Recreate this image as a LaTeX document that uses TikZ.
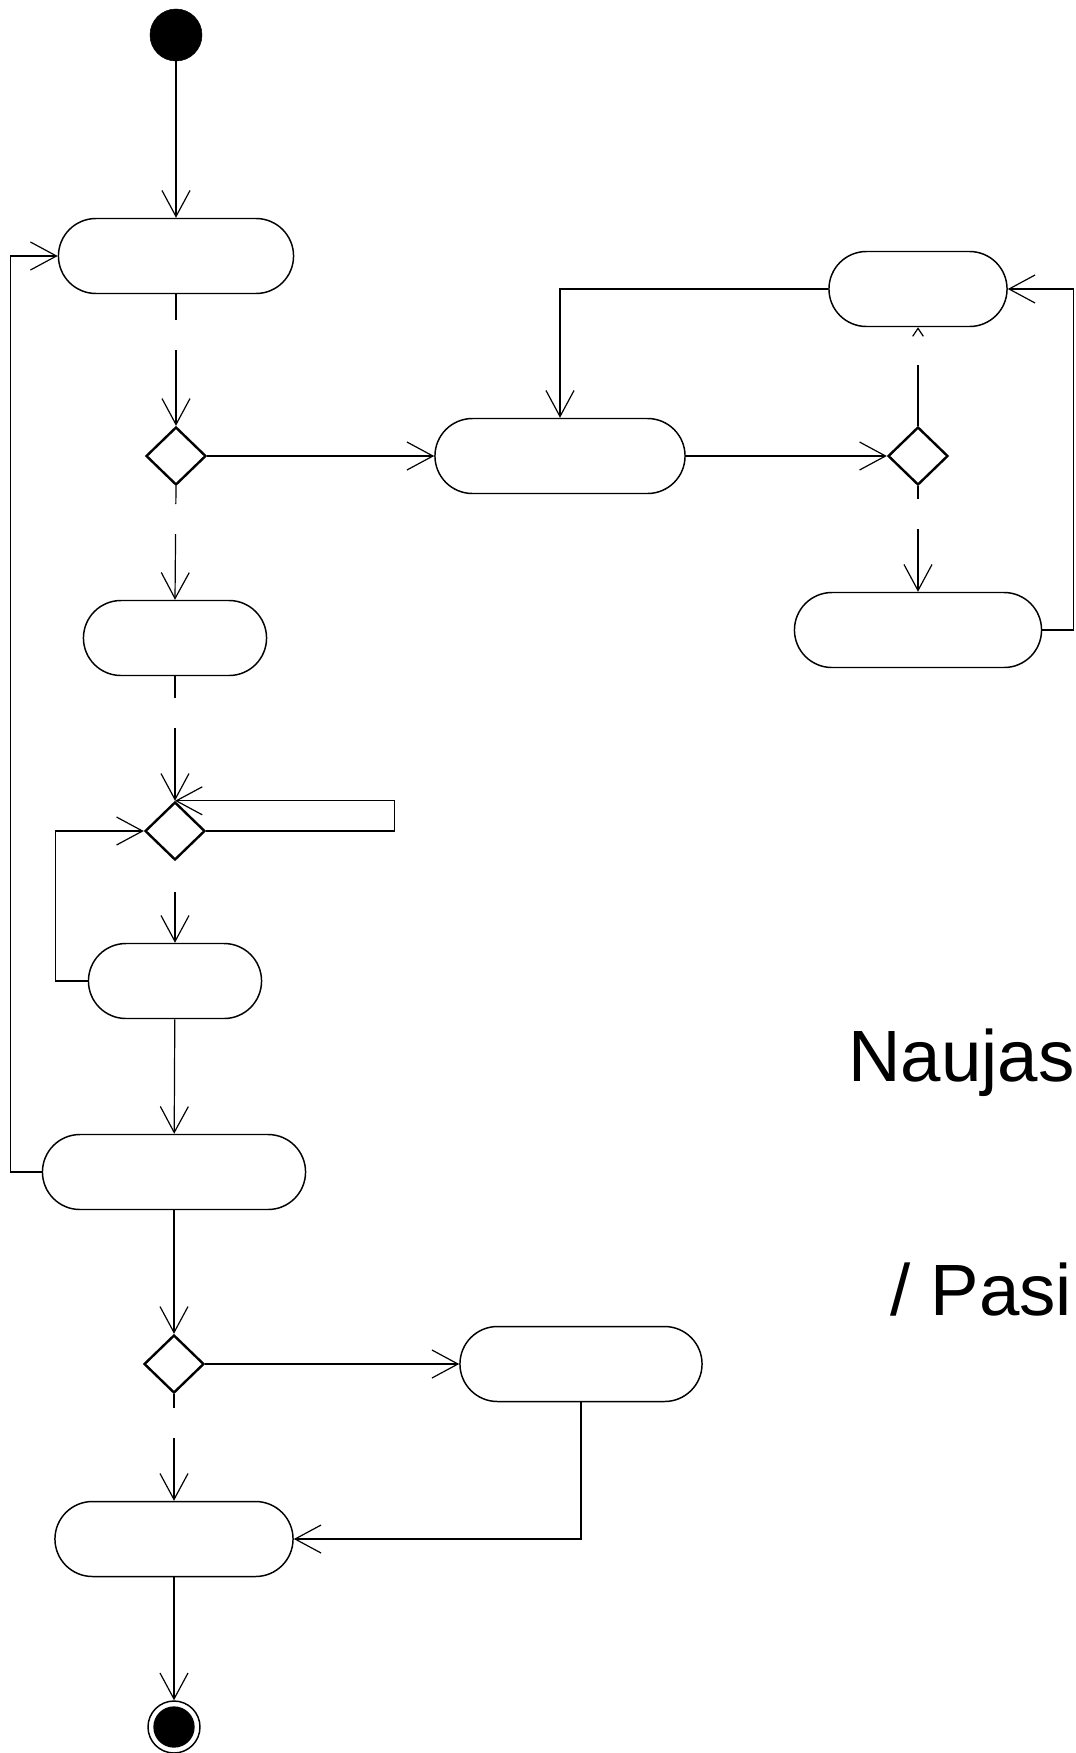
\documentclass[tikz,border=0pt]{standalone}
\usepackage{fontspec}
\setmainfont{Liberation Sans}
\usetikzlibrary{arrows.meta,shapes.misc,shapes.geometric}

\begin{document}
\begin{tikzpicture}[x=0.75pt, y=-0.75pt,
  act/.style={draw, rounded rectangle, minimum height=56.25pt, line width=1.1pt},
  dec/.style={draw, diamond, minimum width=45pt, minimum height=43.5pt, inner sep=0pt, line width=1.8pt},
  flow/.style={-{Straight Barb[length=19.5pt, width=21pt]}, line width=0.9pt},
  guard/.style={dash pattern=on #1 off 22.5pt on 400pt},
  bigtext/.style={anchor=base west, inner sep=0pt, font=\fontsize{54.5pt}{60pt}\selectfont}]
\useasboundingbox (0,0) rectangle (1075,1753);
\clip (0,0) rectangle (1075,1753);

% Start and end
\node[draw, circle, fill, minimum size=39pt] (start) at (176,35) {};
\node[draw, circle, minimum size=39pt, line width=1.1pt] (stop) at (174,1727) {};
\node[circle, fill, minimum size=31pt] (stopdot) at (174,1727) {};

% Actions
\node[act, minimum width=183pt] (a1) at (176,256) {};
\node[act, minimum width=194.25pt] (a2) at (560,456) {};
\node[act, minimum width=140.25pt] (a3) at (918,289) {};
\node[act, minimum width=192pt] (a4) at (918,630) {};
\node[act, minimum width=144pt] (a5) at (175,638) {};
\node[act, minimum width=136.5pt] (a6) at (175,981) {};
\node[act, minimum width=204pt] (a7) at (174,1172) {};
\node[act, minimum width=188.25pt] (a8) at (581,1364) {};
\node[act, minimum width=185.25pt] (a9) at (174,1539) {};

% Decisions
\node[dec] (d1) at (176,456) {};
\node[dec] (d2) at (918,456) {};
\node[dec] (d3) at (175,831) {};
\node[dec] (d4) at (174,1364) {};

% Flows
\draw[flow] (start) -- (a1);
\draw[flow, guard=19.5pt] (a1.south) -- (d1.north);
\draw[flow] (d1.east) -- (a2.west);
\draw[flow] (a2.east) -- (d2.west);
\draw[-{Straight Barb[length=6pt, width=8pt]}, line width=0.9pt, dash pattern=on 45.75pt off 400pt] (d2.north) -- (a3.south);
\draw[flow, guard=9.75pt] (d2.south) -- (a4.north);
\draw[flow] (a4.east) -- ++(31,0) |- (a3.east);
\draw[flow] (a3.west) -| (a2.north);
\draw[flow, guard=13.5pt] (d1.south) -- (a5.north);
\draw[flow, guard=16.5pt] (a5.south) -- (d3.north);
\draw[flow] (d3.east) -- ++(188,0) |- (d3.north);
\draw[flow] (a6.west) -- ++(-32,0) |- (d3.west);
\draw[flow, shorten <=23.25pt] (d3.south) -- (a6.north);
\draw[flow] (a6) -- (a7);
\draw[flow] (a7.west) -- ++(-31,0) |- (a1.west);
\draw[flow] (a7) -- (d4);
\draw[flow] (d4.east) -- (a8.west);
\draw[flow, guard=10.5pt] (d4.south) -- (a9.north);
\draw[flow] (a8.south) |- (a9.east);
\draw[flow] (a9) -- (stop);

% Texts
\node[bigtext] (naujas) at (848,1081) {Naujas};
\node[bigtext] (pasi) at (890,1315) {/ Pasi};
\end{tikzpicture}
\end{document}
